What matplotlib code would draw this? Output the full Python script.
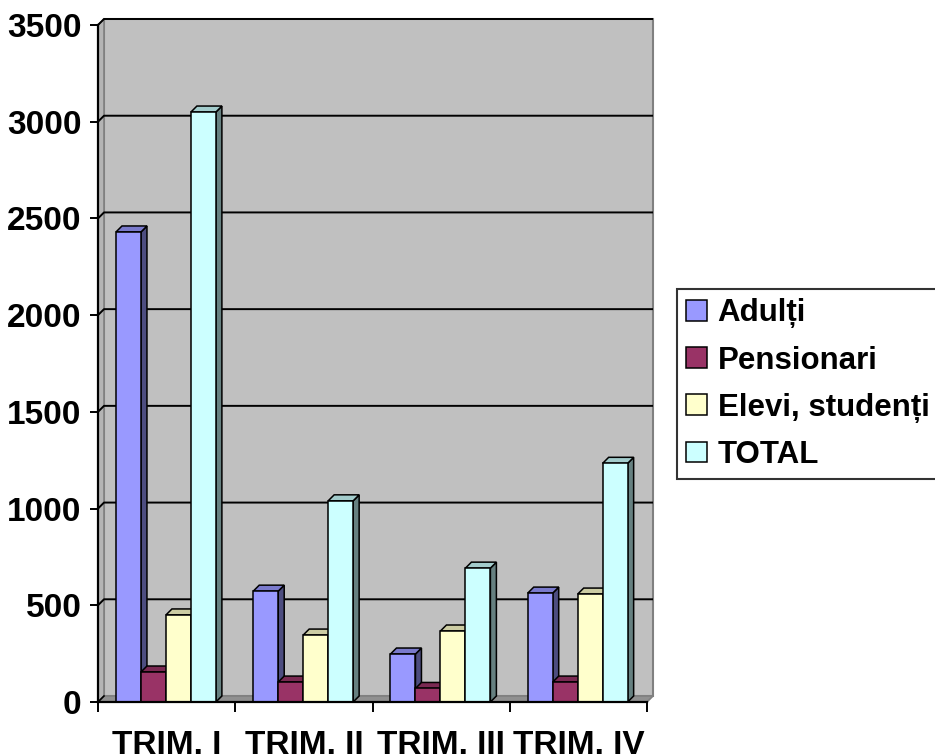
import numpy as np
import matplotlib
matplotlib.use("Agg")
import matplotlib.pyplot as plt
from matplotlib.patches import Polygon, Rectangle, Patch

plt.rcParams['font.family'] = ['Liberation Sans', 'DejaVu Sans']
plt.rcParams['font.weight'] = 'bold'

categories = ["TRIM. I", "TRIM. II", "TRIM. III", "TRIM. IV"]
series_names = ["Adulți", "Pensionari", "Elevi, studenți", "TOTAL"]
adulti = [2430, 573, 248, 563]
pensionari = [155, 103, 70, 103]
elevi = [450, 346, 367, 558]
total = [3050, 1040, 692, 1234]
yticks = [0, 500, 1000, 1500, 2000, 2500, 3000, 3500]

values = [adulti, pensionari, elevi, total]
front_cols = ["#9999FF", "#993366", "#FFFFCC", "#CCFFFF"]
side_cols = ["#4D4D80", "#4D1A33", "#808066", "#668080"]
top_cols = ["#7A7ACC", "#7A2952", "#CCCCA3", "#A3CCCC"]

W, H = 935, 754
fig = plt.figure(figsize=(W / 100, H / 100), dpi=100)
x0px, x1px, y0px, y1px = 98, 647, 702, 25
ax = fig.add_axes([x0px / W, 1 - y0px / H, (x1px - x0px) / W, (y0px - y1px) / H])
ymax = 3500
ncat = len(categories)
ax.set_xlim(0, ncat)
ax.set_ylim(0, ymax)
for s in ax.spines.values():
    s.set_visible(False)

# 3d depth in data units (about 6 px)
dx = 6 * ncat / (x1px - x0px)
dy = 6 * ymax / (y0px - y1px)

wall_c = "#C0C0C0"
edge_c = "#808080"
# back wall
ax.add_patch(Polygon([(dx, dy), (ncat + dx, dy), (ncat + dx, ymax + dy), (dx, ymax + dy)],
                     closed=True, fc=wall_c, ec=edge_c, lw=1.5, zorder=1, clip_on=False))
# left wall
ax.add_patch(Polygon([(0, 0), (dx, dy), (dx, ymax + dy), (0, ymax)],
                     closed=True, fc="#B4B4B4", ec=edge_c, lw=1.2, zorder=1, clip_on=False))
# floor
ax.add_patch(Polygon([(0, 0), (ncat, 0), (ncat + dx, dy), (dx, dy)],
                     closed=True, fc="#909090", ec=edge_c, lw=1.2, zorder=1, clip_on=False))

# gridlines on walls
for v in yticks[1:]:
    ax.plot([0, dx, ncat + dx], [v, v + dy, v + dy], color="black", lw=1.4, zorder=2,
            clip_on=False, solid_capstyle="butt")
ax.plot([0, dx], [0, dy], color="black", lw=1.2, zorder=2, clip_on=False)

# bars
bw = 0.182
off = 0.131
z = 3
for i in range(ncat):
    for j, vals in enumerate(values):
        v = vals[i]
        xl = i + off + j * bw
        xr = xl + bw
        ax.add_patch(Polygon([(xr, 0), (xr + dx, dy), (xr + dx, v + dy), (xr, v)], closed=True,
                             fc=side_cols[j], ec="black", lw=1.1, zorder=z, clip_on=False))
        ax.add_patch(Polygon([(xl, v), (xl + dx, v + dy), (xr + dx, v + dy), (xr, v)], closed=True,
                             fc=top_cols[j], ec="black", lw=1.1, zorder=z, clip_on=False))
        ax.add_patch(Rectangle((xl, 0), bw, v, fc=front_cols[j], ec="black", lw=1.1,
                               zorder=z + 0.5, clip_on=False))
        z += 1

# axis lines
ax.plot([0, 0], [0, ymax], color="black", lw=1.6, zorder=50, clip_on=False)
ax.plot([0, ncat], [0, 0], color="black", lw=1.6, zorder=50, clip_on=False)

ax.set_yticks(yticks)
ax.set_yticklabels([str(t) for t in yticks], fontsize=24, fontweight="bold")
ax.tick_params(axis="y", length=6, width=1.4, pad=6, direction="out")

ax.set_xticks(np.arange(ncat + 1))
ax.set_xticklabels([])
ax.tick_params(axis="x", which="major", length=7, width=1.4, direction="out")
ax.set_xticks(np.arange(ncat) + 0.5, minor=True)
ax.set_xticklabels(categories, minor=True, fontsize=24, fontweight="bold")
ax.tick_params(axis="x", which="minor", length=0, pad=20.5)

handles = [Patch(fc=c, ec="black", lw=1.1) for c in front_cols]
fig.legend(handles, series_names, loc="upper left", bbox_to_anchor=(677 / W, 1 - 289 / H),
           prop={"size": 22.5, "weight": "bold"}, frameon=True, fancybox=False,
           edgecolor="black", handlelength=0.65, handleheight=0.65, handletextpad=0.35,
           borderpad=0.3, labelspacing=0.55, borderaxespad=0)
leg = fig.legends[0]
leg.get_frame().set_linewidth(1.5)

fig.savefig("out.png", dpi=100)
